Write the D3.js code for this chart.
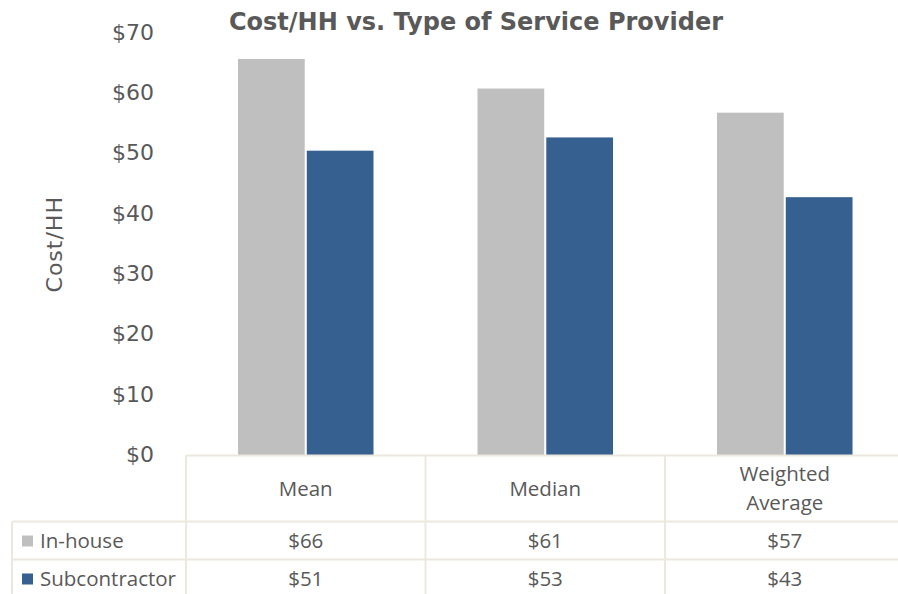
<!DOCTYPE html>
<html>
<head>
<script src="https://cdn.jsdelivr.net/npm/d3@7"></script>
<style>
  html, body { margin: 0; padding: 0; background: #fff; overflow: hidden; }
  svg { display: block; }
</style>
</head>
<body>
<script>
"use strict";

// Data
const categories = ["Mean", "Median", "Weighted Average"];
const categoryLines = [["Mean"], ["Median"], ["Weighted", "Average"]];
const seriesNames = ["In-house", "Subcontractor"];
const inHouse = [65.7, 60.8, 56.8];
const subcontractor = [50.5, 52.7, 42.8];
const yTicks = [0, 10, 20, 30, 40, 50, 60, 70];

// Layout
const WIDTH = 898, HEIGHT = 594;
const PLOT_LEFT = 186, PLOT_TOP = 33, PLOT_BOTTOM = 455.5;
const CAT_WIDTH = 239.5;
const HEADER_H = 66, ROW_H = 38;
const TEXT = "#595959";
const GRID = "#ebe8de";
const COLORS = ["#bfbfbf", "#35608f"];
const AXIS_FONT = "'DejaVu Sans', Verdana, sans-serif";
const TABLE_FONT = "'Open Sans', 'Noto Sans', sans-serif";
const TABLE_SIZE = 20.5;

const values = [inHouse, subcontractor];

const svg = d3.select("body").append("svg")
  .attr("width", WIDTH)
  .attr("height", HEIGHT);

const x0 = d3.scaleBand()
  .domain(categories)
  .range([PLOT_LEFT, PLOT_LEFT + CAT_WIDTH * categories.length])
  .padding(0);

const x1 = d3.scaleBand()
  .domain(seriesNames)
  .range([52, CAT_WIDTH - 52])
  .paddingInner(0.03);

const y = d3.scaleLinear()
  .domain([0, 70])
  .range([PLOT_BOTTOM, PLOT_TOP]);

// Title
svg.append("text")
  .attr("x", 476)
  .attr("y", 30)
  .attr("text-anchor", "middle")
  .attr("font-family", AXIS_FONT)
  .attr("font-weight", "bold")
  .attr("font-size", 24)
  .attr("fill", TEXT)
  .text("Cost/HH vs. Type of Service Provider");

// Y axis (labels only)
const yAxis = svg.append("g")
  .attr("transform", `translate(154,0)`)
  .call(d3.axisLeft(y).tickValues(yTicks).tickSize(0).tickPadding(0).tickFormat(d => "$" + d));
yAxis.select(".domain").remove();
yAxis.selectAll("text")
  .attr("font-family", AXIS_FONT)
  .attr("font-size", 22)
  .attr("dy", "0.28em")
  .attr("fill", TEXT);

svg.append("text")
  .attr("transform", `translate(62,${(PLOT_TOP + PLOT_BOTTOM) / 2}) rotate(-90)`)
  .attr("text-anchor", "middle")
  .attr("font-family", AXIS_FONT)
  .attr("font-size", 22)
  .attr("letter-spacing", 1)
  .attr("fill", TEXT)
  .text("Cost/HH");

// Bars
const groups = svg.append("g").selectAll("g")
  .data(categories)
  .join("g")
  .attr("transform", d => `translate(${x0(d)},0)`);

groups.selectAll("rect")
  .data((d, i) => seriesNames.map((s, j) => ({ s, v: values[j][i], j })))
  .join("rect")
  .attr("x", d => x1(d.s))
  .attr("width", x1.bandwidth())
  .attr("y", d => y(d.v))
  .attr("height", d => y(0) - y(d.v))
  .attr("fill", d => COLORS[d.j]);

// Data table
const table = svg.append("g")
  .attr("stroke", GRID)
  .attr("stroke-width", 2);

const tableTop = PLOT_BOTTOM;
const row1 = tableTop + HEADER_H;
const row2 = row1 + ROW_H;
const tableRight = PLOT_LEFT + CAT_WIDTH * categories.length;

table.append("line").attr("x1", PLOT_LEFT).attr("x2", tableRight).attr("y1", tableTop).attr("y2", tableTop);
[row1, row2].forEach(yy => {
  table.append("line").attr("x1", 12).attr("x2", tableRight).attr("y1", yy).attr("y2", yy);
});
table.append("line").attr("x1", 12).attr("x2", 12).attr("y1", row1).attr("y2", HEIGHT + 5);
categories.forEach(c => {
  table.append("line").attr("x1", x0(c)).attr("x2", x0(c)).attr("y1", tableTop).attr("y2", HEIGHT + 5);
});
table.append("line").attr("x1", tableRight).attr("x2", tableRight).attr("y1", tableTop).attr("y2", HEIGHT + 5);

// Header text
categories.forEach((c, i) => {
  const lines = categoryLines[i];
  const cx = x0(c) + x0.bandwidth() / 2;
  const cy = tableTop + HEADER_H / 2;
  const lh = 29;
  lines.forEach((t, k) => {
    svg.append("text")
      .attr("x", cx)
      .attr("y", cy + (k - (lines.length - 1) / 2) * lh)
      .attr("dy", "0.35em")
      .attr("text-anchor", "middle")
      .attr("font-family", TABLE_FONT)
      .attr("font-size", TABLE_SIZE)
      .attr("fill", TEXT)
      .text(t);
  });
});

// Rows
seriesNames.forEach((s, j) => {
  const cy = row1 + ROW_H * j + ROW_H / 2;
  svg.append("rect")
    .attr("x", 22)
    .attr("y", cy - 5)
    .attr("width", 11)
    .attr("height", 11)
    .attr("fill", COLORS[j]);
  svg.append("text")
    .attr("x", 40)
    .attr("y", cy)
    .attr("dy", "0.35em")
    .attr("font-family", TABLE_FONT)
    .attr("font-size", TABLE_SIZE)
    .attr("fill", TEXT)
    .text(s);
  categories.forEach((c, i) => {
    svg.append("text")
      .attr("x", x0(c) + x0.bandwidth() / 2)
      .attr("y", cy)
      .attr("dy", "0.35em")
      .attr("text-anchor", "middle")
      .attr("font-family", TABLE_FONT)
      .attr("font-size", TABLE_SIZE)
      .attr("fill", TEXT)
      .text("$" + Math.round(values[j][i]));
  });
});
</script>
</body>
</html>
